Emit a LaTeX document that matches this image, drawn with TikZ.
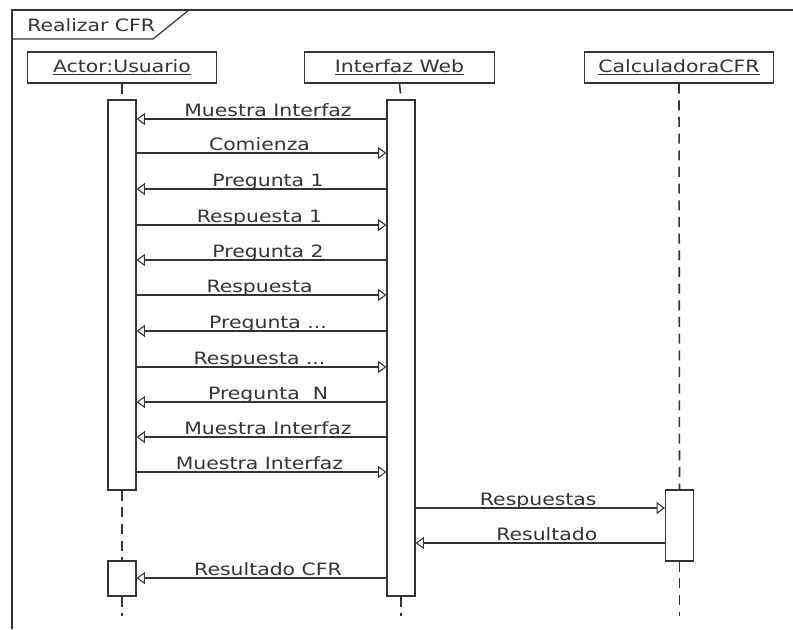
\documentclass[tikz,border=0pt]{standalone}
\usepackage{fontspec}
\setmainfont[FakeStretch=1.2]{DejaVu Sans}
\usetikzlibrary{arrows.meta}
\definecolor{ink}{HTML}{333333}
\begin{document}
\begin{tikzpicture}[x=0.75pt,y=-0.75pt,
  every node/.style={font=\fontsize{12.75}{15}\selectfont, text=ink},
  head/.style={draw=ink, line width=0.9pt, fill=white, minimum width=142pt,
    minimum height=23.25pt, inner sep=0pt},
  bar/.style={draw=ink, line width=0.9pt, fill=white, minimum width=21pt, inner sep=0pt},
  life/.style={draw=ink, line width=1.2pt, dash pattern=on 7.5pt off 5pt},
  frame/.style={draw=ink, line width=0.9pt},
  msg/.style={draw=ink, line width=0.8pt, -{Triangle[fill=white,length=6.2pt,width=9pt]}},
  lbl/.style={anchor=base, inner sep=0pt, yshift=1.6pt},
  lblL/.style={lbl, xshift=4.9pt},
  lblR/.style={lbl, xshift=-1.5pt}
]
\useasboundingbox (0,0) rectangle (793,629);

% interaction frame and its name tab
\node[anchor=base west, inner sep=0pt] (title) at (27,31) {Realizar CFR};
\draw[frame] (12,629) -- (12,10) -- (793,10);
\draw[frame] (12,39) -- (153,39) -- (189,10);

% lifeline heads
\node[head] (usr)  at (122,67.5) {\underline{Actor:Usuario}};
\node[head] (web)  at (399.5,67.5) {\underline{Interfaz Web}};
\node[head] (calc) at (679,67.5) {\underline{CalculadoraCFR}};

% activation bars
\node[bar, minimum height=292.5pt] (ubar)  at (122,295) {};
\node[bar, minimum height=26.25pt] (ubar2) at (122,578.5) {};
\node[bar, minimum height=372pt]   (wbar)  at (401,348) {};
\node[bar, minimum height=53.25pt] (cbar)  at (679.5,525.5) {};

% lifeline ends
\coordinate (uend) at (122,616);
\coordinate (wend) at (401,616);
\coordinate (cend) at (679.5,616);

% dashed lifelines
\draw[life] (usr.south) -- (ubar.north);
\draw[life] (ubar.south) -- (ubar2.north);
\draw[life] (ubar2.south) -- (uend);
\draw[life] (web.south) -- (wbar.north);
\draw[life] (wbar.south) -- (wend);
\draw[life] (calc.south) -- (cbar.north);
\draw[life] (cbar.south) -- (cend);

% messages between user and web interface
\draw[msg] (wbar.west |- 0,119) -- node[lblL]{Muestra Interfaz} (ubar.east |- 0,119);
\draw[msg] (ubar.east |- 0,153) -- node[lblR]{Comienza} (wbar.west |- 0,153);
\draw[msg] (wbar.west |- 0,189) -- node[lblL]{Pregunta 1} (ubar.east |- 0,189);
\draw[msg] (ubar.east |- 0,225) -- node[lblR]{Respuesta 1} (wbar.west |- 0,225);
\draw[msg] (wbar.west |- 0,260) -- node[lblL]{Pregunta 2} (ubar.east |- 0,260);
\draw[msg] (ubar.east |- 0,295) -- node[lblR]{Respuesta} (wbar.west |- 0,295);
\draw[msg] (wbar.west |- 0,331) -- node[lblL]{Pregunta ...} (ubar.east |- 0,331);
\draw[msg] (ubar.east |- 0,367) -- node[lblR]{Respuesta ...} (wbar.west |- 0,367);
\draw[msg] (wbar.west |- 0,402) -- node[lblL]{Pregunta\ \ N} (ubar.east |- 0,402);
\draw[msg] (wbar.west |- 0,437) -- node[lblL]{Muestra Interfaz} (ubar.east |- 0,437);
\draw[msg] (ubar.east |- 0,472) -- node[lblR]{Muestra Interfaz} (wbar.west |- 0,472);

% calculation
\draw[msg] (wbar.east |- 0,508) -- node[lblR]{Respuestas} (cbar.west |- 0,508);
\draw[msg] (cbar.west |- 0,543) -- node[lblL]{Resultado} (wbar.east |- 0,543);

% final result
\draw[msg] (wbar.west |- 0,578) -- node[lblL]{Resultado CFR} (ubar2.east |- 0,578);
\end{tikzpicture}
\end{document}
